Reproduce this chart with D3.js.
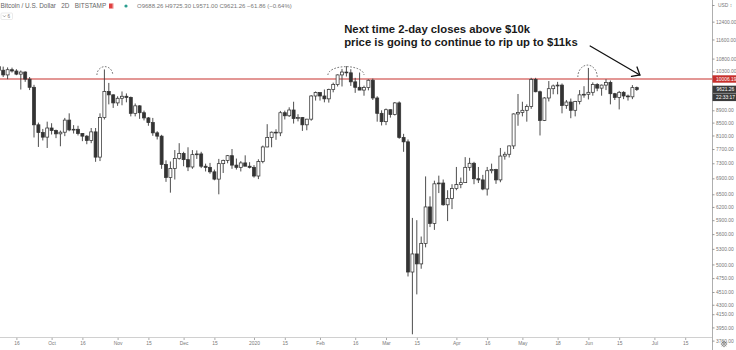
<!DOCTYPE html>
<html>
<head>
<meta charset="utf-8">
<script src="https://cdn.jsdelivr.net/npm/d3@7"></script>
<style>
  html, body { margin: 0; padding: 0; background: #fff; }
  svg { display: block; }
  .tick text { font-family: "Liberation Sans", Arial, sans-serif; }
</style>
</head>
<body>
<svg id="chart" width="736" height="350"></svg>
<script>
// ---------- data: BTC/USD, 2-day bars (Bitstamp) ----------
// bars restart every January 1st; the 2019 series starts on Sep 8
const seriesStart2019 = "2019-09-08";
const seriesStart2020 = "2020-01-01";
const futureSlotsUntil = "2020-07-25";

const opens = [
  10480,10340,10160,10360,10310,10190,10270,10000,9700,8430,
  8190,8050,8330,8250,8150,8200,8580,8270,8290,8160,
  8080,7950,8210,7470,8660,9550,9430,9150,9310,9380,
  9340,8800,9050,8820,8650,8500,8180,8080,7270,6920,
  7160,7430,7570,7400,7200,7540,7560,7220,7190,7070,
  6880,7290,7380,7510,7250,7190,7310,7220,
  7190,6960,7350,7760,8040,8200,8180,8820,8720,8910,
  8630,8660,8430,8610,9390,9510,9390,9290,9620,9800,
  10160,10270,10240,9900,9700,9600,9690,9960,9320,8800,
  8530,8920,8760,9150,8040,7910,4860,5200,5010,5410,
  6200,5830,6760,6780,6250,6400,6640,6740,6790,7190,
  7300,6890,6860,6630,7100,7130,6860,7500,7550,7790,
  8780,8830,8900,9030,9990,9540,8570,9320,9650,9750,
  9780,9060,9180,8900,9200,9430,9450,9520,9800,9670,
  9780,9880,9470,9340,9520,9390,9360,9688.26
];
const highs = [
  10600,10480,10450,10440,10380,10330,10300,10080,9790,8500,
  8300,8530,8480,8280,8250,8650,8800,8420,8400,8170,
  8110,8330,8330,8800,10370,9860,9450,9380,9550,9480,
  9370,9130,9070,8890,8680,8650,8230,8120,7380,7350,
  7670,7870,7620,7750,7670,7660,7620,7290,7310,7130,
  7420,7400,7530,7700,7430,7360,7520,7330,
  7250,7410,7800,8450,8220,8290,8880,8890,9000,9190,
  8770,8680,8620,9420,9550,9520,9620,9650,9870,10180,
  10390,10500,10380,10050,10250,9760,9990,10020,9380,8900,
  8960,8930,9180,9200,8150,7980,5950,5900,5550,6950,
  6450,6840,6970,6870,6600,6750,7200,6920,7470,7450,
  7340,7200,6990,7200,7290,7150,7730,7620,7800,8800,
  9460,9190,9100,10050,10050,9580,9350,9930,9800,9900,
  9840,9250,9300,9220,9600,9740,10430,9880,9850,9800,
  10000,9950,9500,9570,9560,9440,9780,9725.30
];
const lows = [
  10250,10080,10000,10250,10150,9620,9900,9600,8040,7760,
  7950,7730,8130,8020,7780,8080,8230,8160,8100,7930,
  7840,7870,7340,7360,8600,9100,8980,9050,9070,9170,
  8700,8700,8620,8570,8400,8090,7980,7150,6810,6540,
  6870,7400,7220,7090,7150,7420,7170,7080,7020,6850,
  6500,7040,7300,7150,7130,7080,7240,7160,
  6920,6880,7300,7750,7750,7970,8080,8600,8680,8470,
  8540,8240,8260,8560,9230,9230,9170,9160,9520,9730,
  9730,10100,9750,9500,9600,9400,9590,9250,8530,8410,
  8420,8660,8730,8000,7620,4780,3850,4470,4920,5330,
  5750,5690,6530,6230,5880,6150,6600,6650,6780,7100,
  6750,6780,6600,6470,7030,6760,6800,7400,7460,7700,
  8400,8700,8530,8950,9520,8100,8550,9200,9450,9450,
  8800,8950,8640,8700,9100,9330,9270,9400,9560,9400,
  9600,9100,9250,8930,9280,9230,9280,9571.00
];
const closes = [
  10340,10160,10360,10310,10190,10270,10000,9700,8430,8190,
  8050,8330,8250,8150,8200,8580,8270,8290,8160,8080,
  7950,8210,7470,8660,9550,9430,9150,9310,9380,9340,
  8800,9050,8820,8650,8500,8180,8080,7270,6920,7160,
  7430,7570,7400,7200,7540,7560,7220,7190,7070,6880,
  7290,7380,7510,7250,7190,7310,7220,7190,
  6960,7350,7760,8040,8200,8180,8820,8720,8910,8630,
  8660,8430,8610,9390,9510,9390,9290,9620,9800,10160,
  10270,10240,9900,9700,9600,9690,9960,9320,8800,8530,
  8920,8760,9150,8040,7910,4860,5200,5010,5410,6200,
  5830,6760,6780,6250,6400,6640,6740,6790,7190,7300,
  6890,6860,6630,7100,7130,6860,7500,7550,7790,8780,
  8830,8900,9030,9990,9540,8570,9320,9650,9750,9780,
  9060,9180,8900,9200,9430,9450,9520,9800,9670,9780,
  9880,9470,9340,9520,9390,9360,9688.26,9621.26
];

// time-axis labels and the bar they sit on
const xTickDates  = ["2019-09-16","2019-10-02","2019-10-16","2019-11-01","2019-11-15","2019-12-01","2019-12-15",
                     "2020-01-01","2020-01-15","2020-01-31","2020-02-16","2020-03-01","2020-03-15","2020-04-02",
                     "2020-04-16","2020-05-02","2020-05-18","2020-06-01","2020-06-15","2020-07-01","2020-07-15"];
const xTickLabels = ["16","Oct","16","Nov","15","Dec","15","2020","15","Feb","16","Mar","15","Apr",
                     "16","May","18","Jun","15","Jul","15"];

// price-scale labels (log scale)
const yTicks = [12400,11600,10800,10300,8900,8500,8100,7700,7300,6900,6500,6200,5900,5600,5300,5000,
                4750,4510,4300,4150,3950,3760];

// horizontal level and current bar info
const levelPrice = 10006.19;
const lastPrice = 9621.26;
const countdown = "22:33:17";
const headerTitle = "Bitcoin / U.S. Dollar\u00a0\u00a0 2D\u00a0\u00a0 BITSTAMP";
const headerOHLC = "O9688.26 H9725.30 L9571.00 C9621.26 \u221261.86 (\u22120.64%)";

// drawings: dashed caps over the three tops (bar centre, half width in bars, base and top price)
const capCenters = [24.1, 78.9, 133.8];
const capHalfWidths = [1.8, 4.1, 2.2];
const capBasePrices = [10157, 10157, 10081];
const capTopPrices = [10480, 10480, 10540];

// callout
const noteLines = ["Next time 2-day closes above $10k", "price is going to continue to rip up to $11ks"];
const noteAnchor = [78.5, 11880];          // bar index, price of first baseline
const arrowFrom = [134.4, 11320];
const arrowTo = [145.7, 10157];

// ---------- build bar slots ----------
const fmtKey = d3.utcFormat("%Y-%m-%d");
const parse = d3.utcParse("%Y-%m-%d");
const slots = [];
for (let d = parse(seriesStart2019); d.getUTCFullYear() === 2019; d = d3.utcDay.offset(d, 2)) slots.push(d);
for (let d = parse(seriesStart2020); d <= parse(futureSlotsUntil); d = d3.utcDay.offset(d, 2)) slots.push(d);
const slotIndex = new Map(slots.map((d, i) => [fmtKey(d), i]));

const bars = opens.map((o, i) => ({ i, date: slots[i], o, h: highs[i], l: lows[i], c: closes[i] }));

// ---------- layout ----------
const W = 736, H = 350;
const plotRight = 712;        // price scale border
const plotBottom = 337.5;     // time scale border

const svg = d3.select("#chart");

const x = d3.scaleLinear().domain([0, slots.length]).range([-1.2, -1.2 + slots.length * 4.4]);
const y = d3.scaleLog().domain([3804, 13447]).range([plotBottom, 0]);

svg.append("rect").attr("width", W).attr("height", H).attr("fill", "#fff");

const defs = svg.append("defs");
defs.append("clipPath").attr("id", "plotClip")
  .append("rect").attr("x", 0).attr("y", 0).attr("width", plotRight).attr("height", plotBottom);

const plot = svg.append("g").attr("clip-path", "url(#plotClip)");

// level line
plot.append("line")
  .attr("x1", 0).attr("x2", plotRight)
  .attr("y1", y(levelPrice)).attr("y2", y(levelPrice))
  .attr("stroke", "#c8302c").attr("stroke-width", 1.2);

// candles
const bodyW = 3;
const candle = plot.append("g").selectAll("g").data(bars).join("g");
candle.append("line")
  .attr("x1", d => x(d.i)).attr("x2", d => x(d.i))
  .attr("y1", d => y(d.h)).attr("y2", d => y(d.l))
  .attr("stroke", "#3a3a3a").attr("stroke-width", 0.9);
candle.append("rect")
  .attr("x", d => x(d.i) - bodyW / 2)
  .attr("width", bodyW)
  .attr("y", d => y(Math.max(d.o, d.c)))
  .attr("height", d => Math.max(0.8, Math.abs(y(d.o) - y(d.c))))
  .attr("fill", d => d.c >= d.o ? "#ffffff" : "#333333")
  .attr("stroke", "#333333").attr("stroke-width", 0.75);

// dashed caps over the tops
capCenters.forEach((cx, k) => {
  const x0 = x(cx - capHalfWidths[k]), x1 = x(cx + capHalfWidths[k]);
  const yb = y(capBasePrices[k]), yt = y(capTopPrices[k]);
  const rx = (x1 - x0) / 2, ry = yb - yt;
  plot.append("path")
    .attr("d", `M${x0},${yb} A${rx},${ry} 0 0 1 ${x1},${yb}`)
    .attr("fill", "none").attr("stroke", "#444").attr("stroke-width", 0.8)
    .attr("stroke-dasharray", "1.6,1.6");
});

// callout text
const note = svg.append("text")
  .attr("x", x(noteAnchor[0])).attr("y", y(noteAnchor[1]))
  .attr("font-family", "'Liberation Sans', Arial, sans-serif")
  .attr("font-weight", "bold")
  .attr("font-size", 11.3).attr("fill", "#1a1a1a");
noteLines.forEach((t, k) => {
  note.append("tspan").attr("x", x(noteAnchor[0])).attr("dy", k === 0 ? 0 : 12.8).text(t);
});

// arrow
const ax0 = x(arrowFrom[0]), ay0 = y(arrowFrom[1]);
const ax1 = x(arrowTo[0]), ay1 = y(arrowTo[1]);
const ang = Math.atan2(ay1 - ay0, ax1 - ax0);
const headLen = 8.5, headAng = 40 * Math.PI / 180;
const arrow = svg.append("g").attr("stroke", "#111").attr("stroke-width", 1.3)
  .attr("fill", "none").attr("stroke-linecap", "round");
arrow.append("line").attr("x1", ax0).attr("y1", ay0).attr("x2", ax1).attr("y2", ay1);
arrow.append("path").attr("d",
  `M${ax1 - headLen * Math.cos(ang - headAng)},${ay1 - headLen * Math.sin(ang - headAng)}` +
  `L${ax1},${ay1}` +
  `L${ax1 - headLen * Math.cos(ang + headAng)},${ay1 - headLen * Math.sin(ang + headAng)}`);

// ---------- price scale ----------
const yAxis = d3.axisRight(y).tickValues(yTicks).tickFormat(d3.format(".2f")).tickSize(2.5).tickPadding(1.5);
const gy = svg.append("g").attr("transform", `translate(${plotRight},0)`).call(yAxis);
gy.select(".domain").remove();
gy.selectAll(".tick line").attr("stroke", "#999");
gy.selectAll(".tick text").attr("font-size", 4.9).attr("fill", "#777");
svg.append("line").attr("x1", plotRight + 0.5).attr("x2", plotRight + 0.5)
  .attr("y1", 0).attr("y2", H).attr("stroke", "#9a9a9a").attr("stroke-width", 0.8);

// currency label at the top of the price scale
svg.append("text").attr("x", plotRight + 6).attr("y", 7)
  .attr("font-family", "'Liberation Sans', Arial, sans-serif").attr("font-size", 4.9).attr("fill", "#777")
  .text("USD \u2195");
svg.append("line").attr("x1", plotRight).attr("x2", plotRight + 2.5).attr("y1", 5.5).attr("y2", 5.5)
  .attr("stroke", "#999");

// level label
const boxW = W - plotRight;
svg.append("rect").attr("x", plotRight + 0.5).attr("y", y(levelPrice) - 3.7)
  .attr("width", boxW).attr("height", 7.4).attr("fill", "#c8302c");
svg.append("text").attr("x", plotRight + 4).attr("y", y(levelPrice) + 1.7)
  .attr("font-family", "'Liberation Sans', Arial, sans-serif").attr("font-size", 4.9).attr("fill", "#fff")
  .text(d3.format(".2f")(levelPrice));

// last price + countdown label
const lp = y(lastPrice);
svg.append("rect").attr("x", plotRight + 0.5).attr("y", lp - 3.8)
  .attr("width", boxW).attr("height", 15.4).attr("fill", "#3b3b3b");
svg.append("line").attr("x1", plotRight + 1).attr("x2", W).attr("y1", lp + 3.9).attr("y2", lp + 3.9)
  .attr("stroke", "#fff").attr("stroke-width", 0.4);
svg.append("text").attr("x", plotRight + 4.5).attr("y", lp + 1.7)
  .attr("font-family", "'Liberation Sans', Arial, sans-serif").attr("font-size", 4.9).attr("fill", "#fff")
  .text(d3.format(".2f")(lastPrice));
svg.append("text").attr("x", plotRight + 4).attr("y", lp + 9.4)
  .attr("font-family", "'Liberation Sans', Arial, sans-serif").attr("font-size", 4.9).attr("fill", "#fff")
  .text(countdown);

// ---------- time scale ----------
const xTickIdx = xTickDates.map(k => slotIndex.get(k));
const labelOf = new Map(xTickIdx.map((v, k) => [v, xTickLabels[k]]));
const xAxis = d3.axisBottom(x).tickValues(xTickIdx).tickFormat(v => labelOf.get(v)).tickSize(2.5).tickPadding(1.8);
const gx = svg.append("g").attr("transform", `translate(0,${plotBottom})`).call(xAxis);
gx.select(".domain").remove();
gx.selectAll(".tick line").attr("stroke", "#aaa");
gx.selectAll(".tick text").attr("font-size", 4.9).attr("fill", "#777");
svg.append("line").attr("x1", 0).attr("x2", plotRight).attr("y1", plotBottom).attr("y2", plotBottom)
  .attr("stroke", "#c4c4c4").attr("stroke-width", 0.8);

// settings gear in the corner
const gear = svg.append("g").attr("transform", `translate(${plotRight + 12},344)`)
  .attr("stroke", "#666").attr("fill", "none").attr("stroke-width", 0.7);
gear.append("circle").attr("r", 2.2);
gear.append("circle").attr("r", 0.8);
d3.range(8).forEach(k => {
  const a = k * Math.PI / 4;
  gear.append("line").attr("x1", 2.2 * Math.cos(a)).attr("y1", 2.2 * Math.sin(a))
    .attr("x2", 3.2 * Math.cos(a)).attr("y2", 3.2 * Math.sin(a));
});

// ---------- header ----------
const hdr = svg.append("g").attr("font-family", "'Liberation Sans', Arial, sans-serif");
hdr.append("text").attr("x", 0.5).attr("y", 8.2).attr("font-size", 6.4).attr("fill", "#666").text(headerTitle);
hdr.append("rect").attr("x", 109).attr("y", 3.5).attr("width", 4.5).attr("height", 5).attr("fill", "#e04040");
hdr.append("rect").attr("x", 112.5).attr("y", 3.5).attr("width", 1.2).attr("height", 5).attr("fill", "#fff").attr("opacity", 0.6);
hdr.append("circle").attr("cx", 126).attr("cy", 6).attr("r", 1.6).attr("fill", "#2a9d8f");
hdr.append("text").attr("x", 137).attr("y", 8.1).attr("font-size", 6).attr("fill", "#777").text(headerOHLC);
// collapsed indicator list button
hdr.append("rect").attr("x", 1).attr("y", 13).attr("width", 11.5).attr("height", 6.5)
  .attr("fill", "#fff").attr("stroke", "#ddd").attr("stroke-width", 0.6).attr("rx", 1);
hdr.append("path").attr("d", "M3,15.4 L4.4,16.9 L5.8,15.4").attr("fill", "none").attr("stroke", "#777").attr("stroke-width", 0.6);
hdr.append("text").attr("x", 7.5).attr("y", 18).attr("font-size", 4.6).attr("fill", "#777").text("6");
</script>
</body>
</html>
